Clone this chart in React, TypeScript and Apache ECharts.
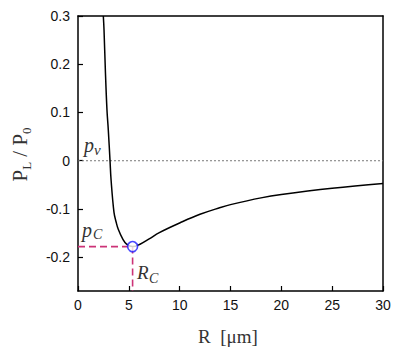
import React, { useEffect, useRef } from "react";
import * as echarts from "echarts";

const R_VALUES = [2.49, 2.56, 2.69, 2.85, 2.98, 3.15, 3.25, 3.54, 3.75, 3.96, 4.42, 4.78, 5.37, 6.1, 7, 8, 10, 12, 14, 15, 18, 20, 25, 30];
const P_VALUES = [0.3, 0.271, 0.188, 0.105, 0.064, 0.0, -0.039, -0.107, -0.127, -0.142, -0.163, -0.173, -0.178, -0.173, -0.162, -0.149, -0.129, -0.111, -0.097, -0.091, -0.077, -0.07, -0.057, -0.047];
const RC = 5.37;
const PC = -0.178;
const Y_TICKS = [-0.2, -0.1, 0, 0.1, 0.2, 0.3];
const X_MIN = 0, X_MAX = 30, Y_MIN = -0.27, Y_MAX = 0.3;

const SERIF = "'Liberation Serif', 'Times New Roman', serif";
const SANS = "'Liberation Sans', Arial, sans-serif";

export default function App() {
  const ref = useRef<HTMLDivElement>(null);
  useEffect(() => {
    if (!ref.current) return;
    const chart = echarts.init(ref.current, null, { renderer: "svg" });
    const curve = R_VALUES.map((r, i) => [r, P_VALUES[i]]);
    const txt = (x: number, y: number, text: string, size: number, extra: any = {}) => ({
      type: "text",
      x,
      y,
      style: { text, fontSize: size, fontFamily: SERIF, fill: "#333", ...extra },
    });
    const frameAxis = {
      type: "value",
      axisLine: { show: true, onZero: false, lineStyle: { color: "#000", width: 1.5 } },
      axisTick: { show: false },
      axisLabel: { show: false },
      splitLine: { show: false },
    };
    chart.setOption({
      animation: false,
      backgroundColor: "#fff",
      grid: { left: 78, right: 26, top: 16, bottom: 62 },
      xAxis: [
        {
          type: "value",
          min: X_MIN,
          max: X_MAX,
          interval: 5,
          axisLine: { show: true, onZero: false, lineStyle: { color: "#000", width: 1.5 } },
          axisTick: { show: true, inside: true, length: 5, lineStyle: { color: "#000", width: 1.2 } },
          axisLabel: { color: "#111", fontSize: 14, fontFamily: SANS, margin: 7 },
          splitLine: { show: false },
        },
        { ...frameAxis, position: "top", min: X_MIN, max: X_MAX },
      ],
      yAxis: [
        {
          type: "value",
          min: Y_MIN,
          max: Y_MAX,
          axisLine: { show: true, onZero: false, lineStyle: { color: "#000", width: 1.5 } },
          axisTick: { show: true, inside: true, length: 5, customValues: Y_TICKS, lineStyle: { color: "#000", width: 1.2 } },
          axisLabel: { color: "#111", fontSize: 14, fontFamily: SANS, margin: 8, customValues: Y_TICKS, formatter: (v: number) => String(Math.round(v * 10) / 10) },
          splitLine: { show: false },
        },
        { ...frameAxis, position: "right", min: Y_MIN, max: Y_MAX },
      ],
      series: [
        {
          type: "line",
          data: [[X_MIN, 0], [X_MAX, 0]],
          symbol: "none",
          lineStyle: { color: "#777", width: 1, type: [2, 2] },
          z: 1,
        },
        {
          type: "line",
          data: [[X_MIN, PC], [RC, PC]],
          symbol: "none",
          lineStyle: { color: "#cc3377", width: 1.6, type: [7, 4] },
          z: 2,
        },
        {
          type: "line",
          data: [[RC, PC], [RC, Y_MIN]],
          symbol: "none",
          lineStyle: { color: "#cc3377", width: 1.6, type: [7, 4] },
          z: 2,
        },
        {
          type: "line",
          data: curve,
          symbol: "none",
          smooth: 0.4,
          clip: true,
          lineStyle: { color: "#000", width: 1.5 },
          z: 3,
        },
        {
          type: "scatter",
          data: [[RC, PC]],
          symbol: "circle",
          symbolSize: 10,
          itemStyle: { color: "#fff", borderColor: "#1a1aff", borderWidth: 1.6 },
          z: 5,
        },
      ],
      graphic: [
        txt(84, 135, "p", 20, { fontStyle: "italic" }),
        txt(94, 142, "v", 15, { fontStyle: "italic" }),
        txt(82, 220, "p", 20, { fontStyle: "italic" }),
        txt(93, 227, "C", 14, { fontStyle: "italic" }),
        txt(137, 263, "R", 19, { fontStyle: "italic" }),
        txt(149, 271, "C", 14, { fontStyle: "italic" }),
        {
          type: "group",
          x: 14,
          y: 154.5,
          rotation: Math.PI / 2,
          children: [
            txt(-27, -5, "P", 21),
            txt(-15.3, 6.4, "L", 13),
            txt(-2.2, -5, "/", 21),
            txt(8.9, -5, "P", 21),
            txt(20.6, 6.4, "0", 13),
          ],
        },
        txt(198, 327, "R  [μm]", 19),
      ],
    });
    return () => chart.dispose();
  }, []);
  return <div ref={ref} style={{ position: "absolute", left: 0, top: 0, width: 409, height: 353 }} />;
}
